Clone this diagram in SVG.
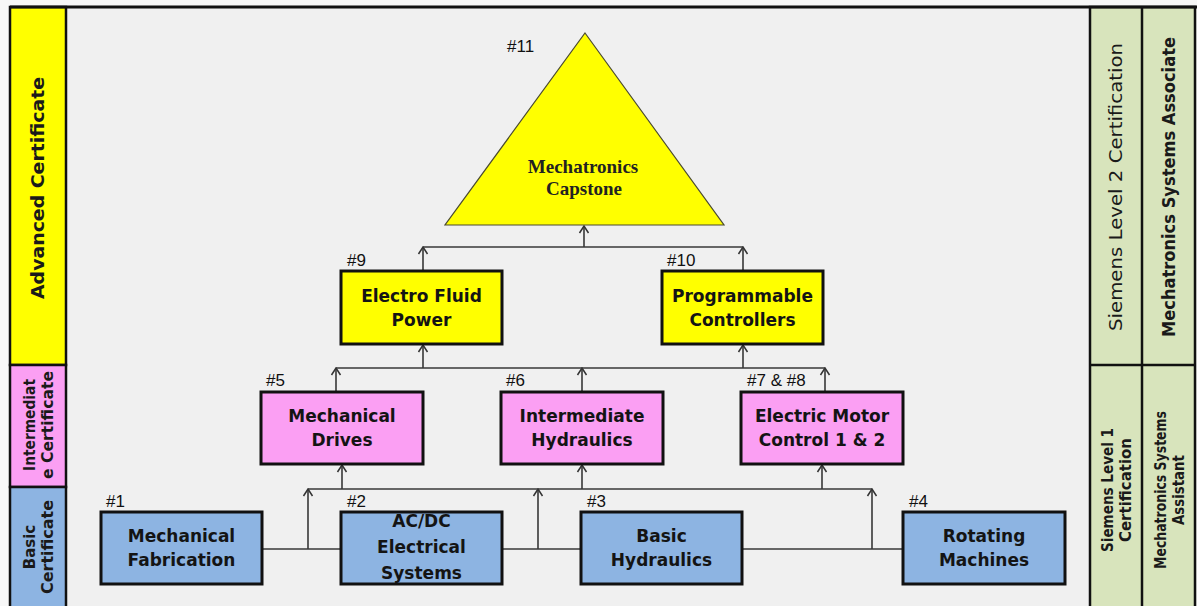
<svg xmlns="http://www.w3.org/2000/svg" width="1197" height="606" viewBox="0 0 1197 606">
  <defs>
    <marker id="arr" viewBox="-1 -6 9 12" refX="7" refY="0" markerWidth="9" markerHeight="12" markerUnits="userSpaceOnUse" orient="auto">
      <path d="M0,-4.5 L7,0 L0,4.5" fill="none" stroke="#333" stroke-width="1.5"/>
    </marker>
  </defs>
  <style>
    .box { stroke: #111; stroke-width: 3; }
    .blue { fill: #8db4e2; }
    .pink { fill: #fb9ff3; }
    .yellow { fill: #ffff00; }
    .green { fill: #d8e4bc; }
    .bt { font-family: "DejaVu Sans", "Liberation Sans", sans-serif; font-weight: bold; font-size: 17px; fill: #141414; text-anchor: middle; }
    .num { font-family: "Liberation Sans", Arial, sans-serif; font-size: 17px; fill: #111; }
    .cap { font-family: "Liberation Serif", "Times New Roman", serif; font-weight: bold; font-size: 19px; fill: #222; text-anchor: middle; }
    .col { font-family: "DejaVu Sans", "Liberation Sans", sans-serif; font-weight: bold; fill: #1a1a1a; text-anchor: middle; }
    .conn line { stroke: #383838; stroke-width: 1.6; }
    .up { marker-end: url(#arr); }
  </style>

  <!-- background -->
  <rect x="0" y="0" width="1197" height="606" fill="#f0f0f0"/>
  <rect x="0" y="0" width="1197" height="6" fill="#f7f7f7"/>
  <rect x="0" y="0" width="10" height="606" fill="#f7f7f7"/>

  <!-- left column -->
  <g id="left-column">
    <rect x="10" y="7" width="56" height="358" class="yellow" stroke="#111" stroke-width="2.5"/>
    <rect x="10" y="365" width="56" height="122" class="pink" stroke="#111" stroke-width="2.5"/>
    <rect x="10" y="487" width="56" height="121" class="blue" stroke="#111" stroke-width="2.5"/>
    <g transform="translate(38,188) rotate(-90)">
      <text class="col" x="0" y="6" font-size="17" textLength="222" lengthAdjust="spacingAndGlyphs">Advanced Certificate</text>
    </g>
    <g transform="translate(38,425) rotate(-90)">
      <text class="col" x="0" y="-3" font-size="15" textLength="92" lengthAdjust="spacingAndGlyphs">Intermediat</text>
      <text class="col" x="0" y="15" font-size="15" textLength="108" lengthAdjust="spacingAndGlyphs">e Certificate</text>
    </g>
    <g transform="translate(38,547) rotate(-90)">
      <text class="col" x="0" y="-3" font-size="15">Basic</text>
      <text class="col" x="0" y="15" font-size="15" textLength="94" lengthAdjust="spacingAndGlyphs">Certificate</text>
    </g>
  </g>

  <!-- right columns -->
  <g id="right-columns">
    <rect x="1090" y="7" width="105" height="601" class="green" stroke="#111" stroke-width="2.5"/>
    <line x1="1142" y1="7" x2="1142" y2="606" stroke="#111" stroke-width="2.5"/>
    <line x1="1090" y1="365" x2="1195" y2="365" stroke="#111" stroke-width="2.5"/>
    <g transform="translate(1116,187) rotate(-90)">
      <text class="col" x="0" y="6" font-size="17" style="font-weight:normal" textLength="288" lengthAdjust="spacingAndGlyphs">Siemens Level 2 Certification</text>
    </g>
    <g transform="translate(1169,187) rotate(-90)">
      <text class="col" x="0" y="6" font-size="17" textLength="300" lengthAdjust="spacingAndGlyphs">Mechatronics Systems Associate</text>
    </g>
    <g transform="translate(1116,490) rotate(-90)">
      <text class="col" x="0" y="-3" font-size="16" textLength="124" lengthAdjust="spacingAndGlyphs">Siemens Level 1</text>
      <text class="col" x="0" y="15" font-size="16" textLength="104" lengthAdjust="spacingAndGlyphs">Certification</text>
    </g>
    <g transform="translate(1169,490) rotate(-90)">
      <text class="col" x="0" y="-3" font-size="16" textLength="158" lengthAdjust="spacingAndGlyphs">Mechatronics Systems</text>
      <text class="col" x="0" y="15" font-size="16" textLength="70" lengthAdjust="spacingAndGlyphs">Assistant</text>
    </g>
  </g>

  <!-- top frame line -->
  <line x1="10" y1="7" x2="1197" y2="7" stroke="#111" stroke-width="3"/>

  <!-- connectors -->
  <g id="connectors" class="conn">
    <line x1="262" y1="549" x2="341" y2="549"/>
    <line x1="502" y1="549" x2="581" y2="549"/>
    <line x1="742" y1="549" x2="903" y2="549"/>
    <line class="up" x1="308" y1="549" x2="308" y2="489"/>
    <line class="up" x1="538" y1="549" x2="538" y2="489"/>
    <line class="up" x1="872" y1="549" x2="872" y2="489"/>
    <line x1="308" y1="489" x2="872" y2="489"/>
    <line class="up" x1="342" y1="489" x2="342" y2="465"/>
    <line class="up" x1="582" y1="489" x2="582" y2="465"/>
    <line class="up" x1="822" y1="489" x2="822" y2="465"/>

    <line class="up" x1="336" y1="391" x2="336" y2="368"/>
    <line class="up" x1="582" y1="391" x2="582" y2="368"/>
    <line class="up" x1="825" y1="391" x2="825" y2="368"/>
    <line x1="336" y1="368" x2="825" y2="368"/>
    <line class="up" x1="423" y1="368" x2="423" y2="345"/>
    <line class="up" x1="743" y1="368" x2="743" y2="345"/>

    <line class="up" x1="423" y1="270" x2="423" y2="247"/>
    <line class="up" x1="743" y1="270" x2="743" y2="247"/>
    <line x1="423" y1="247" x2="743" y2="247"/>
    <line class="up" x1="584" y1="247" x2="584" y2="226"/>
  </g>

  <!-- basic nodes -->
  <g id="node1">
    <rect x="101" y="512" width="161" height="72" class="box blue"/>
    <text class="num" x="106" y="507">#1</text>
    <text class="bt" x="181.5" y="542">Mechanical</text>
    <text class="bt" x="181.5" y="566">Fabrication</text>
  </g>
  <g id="node2">
    <rect x="341" y="512" width="161" height="72" class="box blue"/>
    <text class="num" x="347" y="507">#2</text>
    <text class="bt" x="421.5" y="527">AC/DC</text>
    <text class="bt" x="421.5" y="553">Electrical</text>
    <text class="bt" x="421.5" y="579">Systems</text>
  </g>
  <g id="node3">
    <rect x="581" y="512" width="161" height="72" class="box blue"/>
    <text class="num" x="587" y="507">#3</text>
    <text class="bt" x="661.5" y="542">Basic</text>
    <text class="bt" x="661.5" y="566">Hydraulics</text>
  </g>
  <g id="node4">
    <rect x="903" y="512" width="162" height="72" class="box blue"/>
    <text class="num" x="909" y="507">#4</text>
    <text class="bt" x="984" y="542">Rotating</text>
    <text class="bt" x="984" y="566">Machines</text>
  </g>

  <!-- intermediate nodes -->
  <g id="node5">
    <rect x="261" y="392" width="162" height="72" class="box pink"/>
    <text class="num" x="266" y="386">#5</text>
    <text class="bt" x="342" y="422">Mechanical</text>
    <text class="bt" x="342" y="446">Drives</text>
  </g>
  <g id="node6">
    <rect x="501" y="392" width="162" height="72" class="box pink"/>
    <text class="num" x="506" y="386">#6</text>
    <text class="bt" x="582" y="422">Intermediate</text>
    <text class="bt" x="582" y="446">Hydraulics</text>
  </g>
  <g id="node7-8">
    <rect x="741" y="392" width="162" height="72" class="box pink"/>
    <text class="num" x="747" y="386">#7 &amp; #8</text>
    <text class="bt" x="822" y="422">Electric Motor</text>
    <text class="bt" x="822" y="446">Control 1 &amp; 2</text>
  </g>

  <!-- advanced nodes -->
  <g id="node9">
    <rect x="341" y="271" width="161" height="73" class="box yellow"/>
    <text class="num" x="347" y="266">#9</text>
    <text class="bt" x="421.5" y="302">Electro Fluid</text>
    <text class="bt" x="421.5" y="326">Power</text>
  </g>
  <g id="node10">
    <rect x="662" y="271" width="161" height="73" class="box yellow"/>
    <text class="num" x="667" y="266">#10</text>
    <text class="bt" x="742.5" y="302">Programmable</text>
    <text class="bt" x="742.5" y="326">Controllers</text>
  </g>
  <g id="node11">
    <polygon points="585,33 724,225 445,225" fill="#ffff00" stroke="#4a4a30" stroke-width="1.2"/>
    <text class="num" x="507" y="52">#11</text>
    <text class="cap" x="583" y="173">Mechatronics</text>
    <text class="cap" x="584" y="195">Capstone</text>
  </g>
</svg>
